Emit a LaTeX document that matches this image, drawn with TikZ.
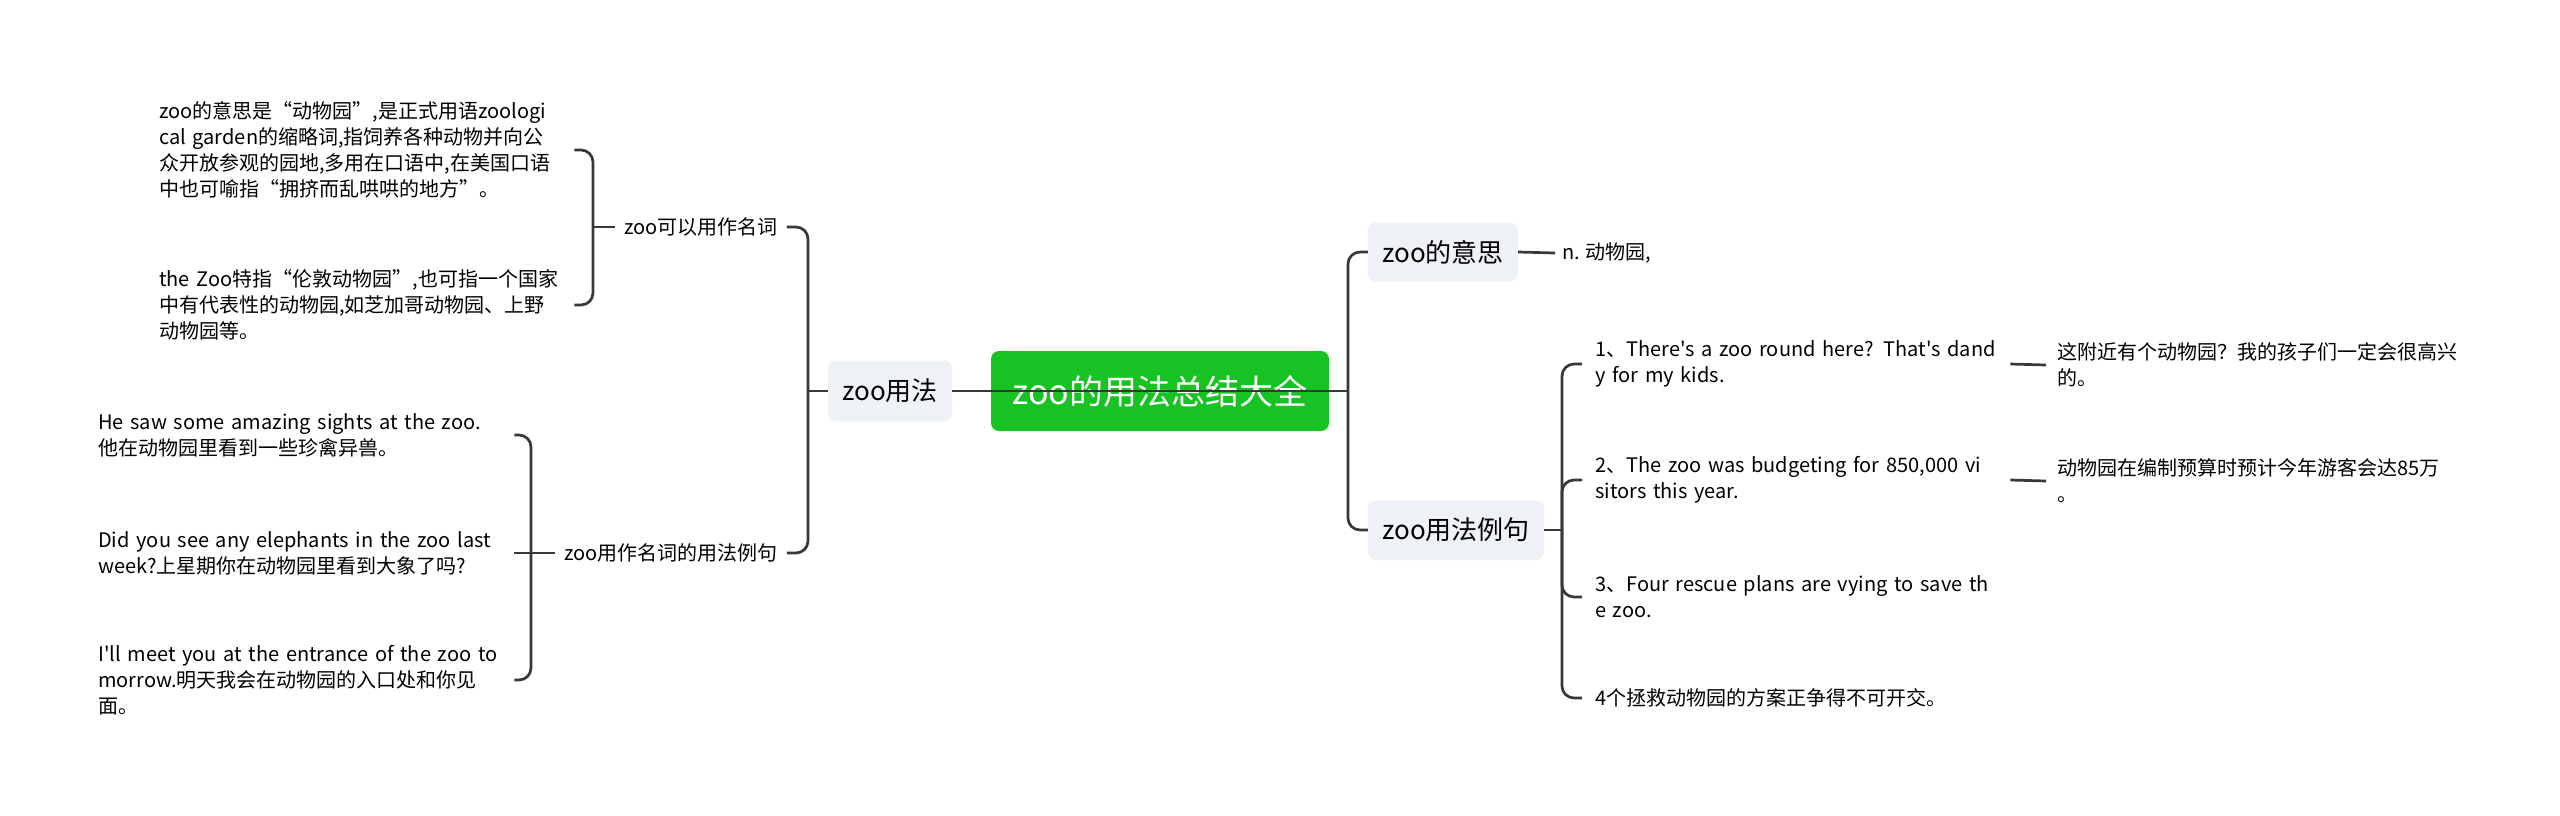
\documentclass[tikz,border=0pt]{standalone}
\usepackage{fontspec}
\setmainfont{Noto Sans CJK SC}
\newfontfamily\zh{Noto Sans CJK SC}
\definecolor{linec}{HTML}{383838}
\definecolor{boxg}{HTML}{EEF1F5}
\definecolor{rootg}{HTML}{16C322}
\begin{document}
\begin{tikzpicture}[x=1pt,y=-1pt,
 conn/.style={draw=linec,line width=2.7pt,rounded corners=12pt},
 rootbox/.style={fill=rootg,rounded corners=8pt,inner sep=0pt,minimum width=338pt,minimum height=80pt,text=white,font=\zh\fontsize{34}{40}\selectfont},
 sub/.style={fill=boxg,rounded corners=8pt,inner sep=0pt,font=\zh\fontsize{26}{30}\selectfont,text=black},
 lbl/.style={inner xsep=9pt,inner ysep=0pt,font=\zh\fontsize{20}{26}\selectfont},
 leaf/.style={inner sep=0pt,align=left,anchor=west,font=\zh\fontsize{20}{26}\selectfont},
]
\fill[white] (0,0) rectangle (2560,815);
\useasboundingbox (0,0) rectangle (2560,815);

\node[rootbox] (root) at (1160,391) {zoo的用法总结大全};
\node[sub,minimum width=124pt,minimum height=61pt] (zu) at (890,391) {zoo用法};
\node[sub,minimum width=150pt,minimum height=59pt] (zy) at (1443,252) {zoo的意思};
\node[sub,minimum width=176pt,minimum height=60pt] (zl) at (1456,530) {zoo用法例句};

\node[lbl] (L1) at (701,227) {zoo可以用作名词};
\node[lbl] (L2) at (671,553) {zoo用作名词的用法例句};

\node[leaf,text width=415pt] (A1) at (159,150) {zoo的意思是“动物园”,是正式用语zoologi\\cal garden的缩略词,指饲养各种动物并向公\\众开放参观的园地,多用在口语中,在美国口语\\中也可喻指“拥挤而乱哄哄的地方”。};
\node[leaf,text width=415pt] (A2) at (159,305) {the Zoo特指“伦敦动物园”,也可指一个国家\\中有代表性的动物园,如芝加哥动物园、上野\\动物园等。};

\node[leaf,text width=416pt] (B1) at (98,435) {He saw some amazing sights at the zoo.\\他在动物园里看到一些珍禽异兽。};
\node[leaf,text width=416pt] (B2) at (98,553) {Did you see any elephants in the zoo last\\week?上星期你在动物园里看到大象了吗?};
\node[leaf,text width=416pt] (B3) at (98,680) {I'll meet you at the entrance of the zoo to\\morrow.明天我会在动物园的入口处和你见\\面。};

\node[leaf] (nm) at (1562,253) {n. 动物园,};

\node[leaf,text width=415pt] (R1) at (1595,364) {1、There's a zoo round here? That's dand\\y for my kids.};
\node[leaf,text width=415pt] (R2) at (1595,480) {2、The zoo was budgeting for 850,000 vi\\sitors this year.};
\node[leaf,text width=415pt] (R3) at (1595,597) {3、Four rescue plans are vying to save th\\e zoo.};
\node[leaf] (R4) at (1595,698) {4个拯救动物园的方案正争得不可开交。};

\node[leaf] (T1) at (2057,365) {这附近有个动物园？我的孩子们一定会很高兴\\的。};
\node[leaf] (T2) at (2057,481) {动物园在编制预算时预计今年游客会达85万\\。};

\coordinate (jL) at (808,391);
\coordinate (jR) at (1348,391);
\coordinate (j1) at (593,227);
\coordinate (j2) at (531,553);
\coordinate (j3) at (1562,530);

% root level
\draw[conn] (zu.east) -- (jR);
\draw[conn] (zu.west) -- (jL);
\draw[conn] (jL) |- (L1.east);
\draw[conn] (jL) |- (L2.east);
\draw[conn] (jR) |- (zy.west);
\draw[conn] (jR) |- (zl.west);

% left label 1
\draw[conn] (L1.west) -- (j1);
\draw[conn] (j1) |- (A1.east);
\draw[conn] (j1) |- (A2.east);

% left label 2
\draw[conn] (L2.west) -- (j2);
\draw[conn] (j2) |- (B1.east);
\draw[conn] (B2.east) -- (j2);
\draw[conn] (j2) |- (B3.east);

% right
\draw[conn] (zy.east) -- ([xshift=-7pt]nm.west);
\draw[conn] (zl.east) -- (j3);
\draw[conn] (j3) |- ([xshift=-13pt]R1.west);
\draw[conn] (j3) |- ([xshift=-13pt]R2.west);
\draw[conn] (j3) |- ([xshift=-13pt]R3.west);
\draw[conn] (j3) |- ([xshift=-13pt]R4.west);
\draw[conn] (R1.east) -- ([xshift=-11pt]T1.west);
\draw[conn] (R2.east) -- ([xshift=-11pt]T2.west);
\end{tikzpicture}
\end{document}
